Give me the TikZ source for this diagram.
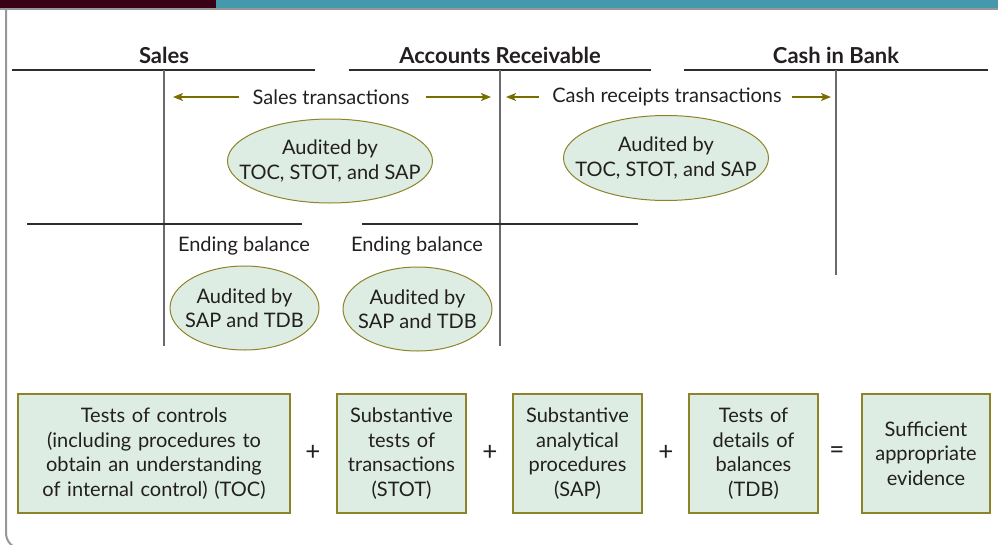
\documentclass[tikz,border=0pt]{standalone}
\usepackage{fontspec}
\setmainfont{Lato}
\usepackage{xcolor}
\definecolor{hdrdark}{RGB}{58,0,22}
\definecolor{hdrteal}{RGB}{68,154,172}
\definecolor{framegray}{RGB}{150,150,155}
\definecolor{ruledark}{RGB}{45,45,48}
\definecolor{stemgray}{RGB}{105,105,110}
\definecolor{mintfill}{RGB}{222,237,228}
\definecolor{olivedge}{RGB}{140,132,40}
\definecolor{arrowolive}{RGB}{120,110,0}
\definecolor{ink}{RGB}{35,31,32}
\usetikzlibrary{shapes,arrows.meta,positioning,calc}

\begin{document}
\begin{tikzpicture}[x=1pt,y=-1pt,
        every node/.style={text=ink,font=\fontsize{20}{24.5}\selectfont},
        title/.style={font=\fontsize{22}{26}\selectfont\bfseries},
        op/.style={font=\fontsize{26}{26}\selectfont},
        tline/.style={draw=ruledark,line width=2.5pt},
        subline/.style={draw=ruledark,line width=1.2pt},
        stem/.style={draw=stemgray,line width=1.6pt},
        audit/.style={ellipse,draw=olivedge,line width=1pt,fill=mintfill,
                      inner xsep=-40pt,inner ysep=0pt,align=center},
        box/.style={draw=olivedge,line width=1.2pt,fill=mintfill,inner sep=0pt,
                    minimum height=119pt,align=center},
        arrow/.style={-{Stealth[length=10pt,width=8pt,inset=2.5pt]},
                      line width=1.6pt,color=arrowolive}
    ]
        \useasboundingbox (0,0) rectangle (998,544);

        % Header and frame
        \fill[hdrdark] (0,0) rectangle (216,8.5);
        \fill[hdrteal] (216,0) rectangle (998,8.5);
        \draw[framegray,line width=1.2pt] (0,9) -- (998,9);
        \draw[framegray,line width=2pt,rounded corners=16pt] (6,9) -- (6,549) -- (998,549);

        % T-accounts
        \node[title] (sales) at (164,55) {Sales};
        \node[title] (ar) at (500,55) {Accounts Receivable};
        \node[title] (cash) at (836,55) {Cash in Bank};
        \draw[tline] (12,70) -- (315,70);
        \draw[tline] (349,70) -- (651,70);
        \draw[tline] (684,70) -- (988,70);
        \draw[stem] (164,70) -- (164,346);
        \draw[stem] (500,70) -- (500,346);
        \draw[stem] (836,70) -- (836,275);
        \draw[subline] (27,224) -- (302,224);
        \draw[subline] (362,224) -- (638,224);

        % Transactions
        \node[inner sep=0pt] (salestx) at (331,97) {Sales transactions};
        \node[inner sep=0pt] (cashtx) at (667,97) {Cash receipts transactions};
        \coordinate (salesl) at (173,97);
        \coordinate (salesr) at (491,97);
        \coordinate (cashl) at (506,97);
        \coordinate (cashr) at (831,97);
        \draw[arrow,shorten <=13pt] (salestx) -- (salesl);
        \draw[arrow,shorten <=16pt] (salestx) -- (salesr);
        \draw[arrow,shorten <=13pt] (cashtx) -- (cashl);
        \draw[arrow,shorten <=10pt] (cashtx) -- (cashr);

        % Audit ellipses
        \node[audit,minimum width=205pt,minimum height=84pt] (salesaud) at (330,161)
            {Audited by\\TOC, STOT, and SAP};
        \node[audit,minimum width=205pt,minimum height=85pt] (cashaud) at (666,158)
            {Audited by\\TOC, STOT, and SAP};
        \node (salesend) at (244,246) {Ending balance};
        \node (arend) at (417,246) {Ending balance};
        \node[audit,minimum width=149pt,minimum height=84pt] (salesbal) at (244.5,308)
            {Audited by\\SAP and TDB};
        \node[audit,minimum width=149pt,minimum height=84pt] (arbal) at (417.5,309)
            {Audited by\\SAP and TDB};

        % Evidence equation
        \node[box,text width=272pt] (toc) at (154,453.5)
            {Tests of controls\\(including procedures to\\obtain an understanding\\of internal control) (TOC)};
        \node[box,text width=129pt] (stot) at (401.5,453.5)
            {Substantive\\tests of\\transactions\\(STOT)};
        \node[box,text width=129pt] (sap) at (577.5,453.5)
            {Substantive\\analytical\\procedures\\(SAP)};
        \node[box,text width=129pt] (tdb) at (753.5,453.5)
            {Tests of\\details of\\balances\\(TDB)};
        \node[box,text width=128pt] (evid) at (926,453.5)
            {Sufficient\\appropriate\\evidence};
        \node[op] (plusa) at (313,453) {+};
        \node[op] (plusb) at (490,453) {+};
        \node[op] (plusc) at (666,453) {+};
        \node[op] (equals) at (837,453) {=};
    \end{tikzpicture}
\end{document}
